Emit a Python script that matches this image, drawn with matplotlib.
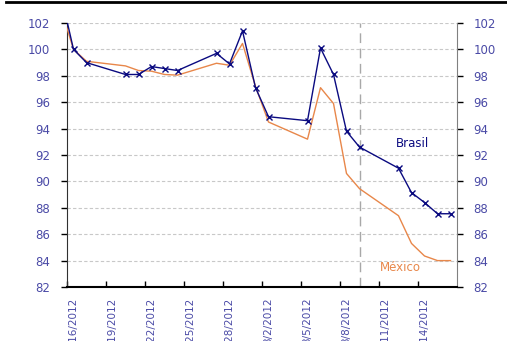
import matplotlib
matplotlib.use("Agg")
import matplotlib.pyplot as plt
from matplotlib.lines import Line2D
import pandas as pd

# daily index levels (base 100)
dates = ["2012-02-15", "2012-02-16", "2012-02-17", "2012-02-20", "2012-02-21",
         "2012-02-22", "2012-02-23", "2012-02-24", "2012-02-27", "2012-02-28",
         "2012-02-29", "2012-03-01", "2012-03-02", "2012-03-05", "2012-03-06",
         "2012-03-07", "2012-03-08", "2012-03-09", "2012-03-12", "2012-03-13",
         "2012-03-14", "2012-03-15", "2012-03-16"]
brasil = [104.3, 100.0, 99.0, 98.1, 98.1, 98.7, 98.55, 98.4, 99.7, 98.9,
          101.4, 97.1, 94.9, 94.6, 100.1, 98.1, 93.8, 92.6, 91.0, 89.15,
          88.4, 87.55, 87.55]
mexico = [103.2, 100.0, 99.1, 98.75, 98.4, 98.35, 98.1, 98.05, 98.95, 98.8,
          100.45, 97.2, 94.5, 93.2, 97.1, 95.9, 90.6, 89.45, 87.4, 85.3,
          84.35, 84.0, 84.0]
tick_dates = ["2012-02-16", "2012-02-19", "2012-02-22", "2012-02-25", "2012-02-28",
              "2012-03-02", "2012-03-05", "2012-03-08", "2012-03-11", "2012-03-14"]
marker_date = "2012-03-09"
x_start, x_end = "2012-02-16", "2012-03-17"

navy = "#0A0A80"
orange = "#E8874A"
label_col = "#4A4AA6"

half_day = pd.Timedelta(hours=12)
x = pd.to_datetime(dates) + half_day
ticks = pd.to_datetime(tick_dates)

fig = plt.figure(figsize=(5.07, 3.41), dpi=100)
ax = fig.add_axes([67 / 507, 1 - 287 / 341, 390 / 507, 264 / 341])

ax.plot(x, mexico, color=orange, lw=1.0, zorder=3)
ax.plot(x, brasil, color=navy, lw=1.0, marker="x", ms=4.5, mew=1.0, zorder=4)

ax.axvline(pd.Timestamp(marker_date) + half_day, color="#A8A8A8", lw=1.0,
           dashes=(7, 4), zorder=2)

ax.set_xlim(pd.Timestamp(x_start), pd.Timestamp(x_end))
ax.set_ylim(82, 102)
ax.set_yticks(range(82, 103, 2))
ax.yaxis.grid(True, color="#C8C8C8", lw=0.8, ls=(0, (3, 2)))
ax.set_axisbelow(True)

# ticks sit on day boundaries, labels in the middle of the day
ax.set_xticks(ticks)
ax.set_xticklabels([])
ax.set_xticks(ticks + half_day, minor=True)
ax.set_xticklabels([f"{d.month}/{d.day}/{d.year}" for d in ticks], minor=True,
                   rotation=90, fontsize=7.5, color=label_col)
ax.tick_params(axis="x", which="major", direction="in", length=4, width=1, color="black")
ax.tick_params(axis="x", which="minor", length=0, pad=7.5)

ax.tick_params(axis="y", direction="out", length=4, width=1, left=True, right=True,
               labelleft=True, labelright=True, labelsize=8.5, labelcolor=label_col,
               pad=8)
for t in ax.yaxis.get_ticklines()[1::2]:
    t.set_color("#808080")

ax.spines["top"].set_visible(False)
ax.spines["left"].set_color("#303030")
ax.spines["right"].set_color("#808080")
ax.spines["bottom"].set_color("black")
ax.spines["bottom"].set_linewidth(1.5)

ax.text(pd.Timestamp("2012-03-12") + pd.Timedelta(hours=8), 92.9, "Brasil",
        color=navy, fontsize=8.5, va="center", ha="left")
ax.text(pd.Timestamp("2012-03-11") + pd.Timedelta(hours=1), 83.5, "México",
        color=orange, fontsize=8.5, va="center", ha="left")

fig.add_artist(Line2D([6 / 507, 1], [1 - 2 / 341, 1 - 2 / 341], color="black", lw=2))

fig.savefig("out.png", dpi=100)
